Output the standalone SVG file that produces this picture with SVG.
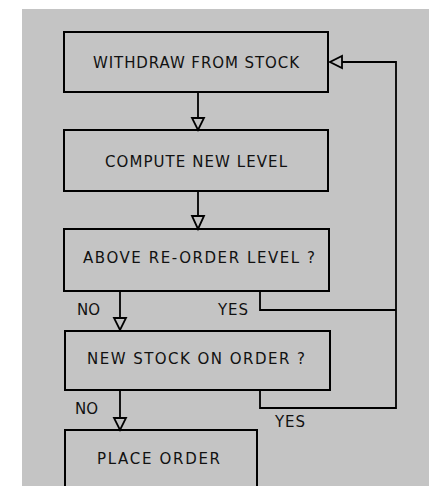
<svg xmlns="http://www.w3.org/2000/svg" width="429" height="486" viewBox="0 0 429 486">
<style>
.box{fill:none;stroke:#000;stroke-width:2}
.ln{fill:none;stroke:#000;stroke-width:1.8}
.ah{fill:#c4c4c4;stroke:#000;stroke-width:1.8;stroke-linejoin:miter}
text{font-family:"DejaVu Sans","Liberation Sans",sans-serif;font-size:15px;fill:#111}
</style>
<rect x="0" y="0" width="429" height="486" fill="#fff"/>
<rect x="22" y="9" width="407" height="477" fill="#c4c4c4"/>
<g id="connectors">
<path class="ln" d="M198 92 V119"/>
<path class="ah" d="M192 118 L204 118 L198 130 Z"/>
<path class="ln" d="M198 191 V217"/>
<path class="ah" d="M192 216 L204 216 L198 229 Z"/>
<path class="ln" d="M120 291 V319"/>
<path class="ah" d="M114 318 L126 318 L120 330 Z"/>
<path class="ln" d="M120 390 V419"/>
<path class="ah" d="M114 418 L126 418 L120 430 Z"/>
<path class="ln" d="M260 291 V310 H396"/>
<path class="ln" d="M260 390 V408 H396 V62 H342"/>
<path class="ah" d="M342 56 L342 68 L330 62 Z"/>
</g>
<g id="withdraw">
<rect class="box" x="64" y="32" width="264" height="60"/>
<text x="93" y="68" textLength="206" lengthAdjust="spacing">WITHDRAW FROM STOCK</text>
</g>
<g id="compute">
<rect class="box" x="64" y="130" width="264" height="61"/>
<text x="105" y="167" textLength="182" lengthAdjust="spacing">COMPUTE NEW LEVEL</text>
</g>
<g id="above">
<rect class="box" x="64" y="229" width="265" height="62"/>
<text x="83" y="263" textLength="232" lengthAdjust="spacing">ABOVE RE-ORDER LEVEL ?</text>
</g>
<g id="newstock">
<rect class="box" x="65" y="331" width="265" height="59"/>
<text x="87" y="364" textLength="218" lengthAdjust="spacing">NEW STOCK ON ORDER ?</text>
</g>
<g id="place">
<rect class="box" x="65" y="430" width="192" height="70"/>
<text x="97" y="464" textLength="123" lengthAdjust="spacing">PLACE ORDER</text>
</g>
<g id="labels">
<text x="77" y="315" textLength="23" lengthAdjust="spacing">NO</text>
<text x="218" y="315" textLength="30" lengthAdjust="spacing">YES</text>
<text x="75" y="414" textLength="23" lengthAdjust="spacing">NO</text>
<text x="275" y="427" textLength="30" lengthAdjust="spacing">YES</text>
</g>
</svg>
